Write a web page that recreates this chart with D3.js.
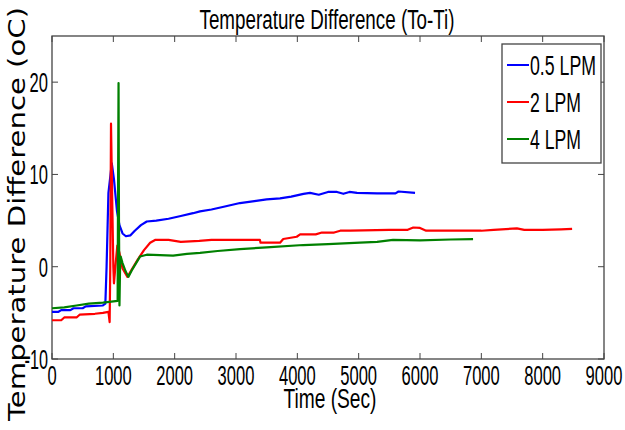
<!DOCTYPE html>
<html>
<head>
<meta charset="utf-8">
<script src="https://cdn.jsdelivr.net/npm/d3@7"></script>
<style>
  body { margin: 0; background: #fff; }
  svg { display: block; }
</style>
</head>
<body>
<svg width="625" height="430"></svg>
<script>
// series: [time (s), temperature difference (oC)]
var blue05 = [[0,-4.9],[100,-4.9],[150,-4.7],[300,-4.7],[350,-4.5],[500,-4.5],[550,-4.3],[830,-4.2],[870,-4.0],[890,0],[920,8],[975,11.2],[1010,9.5],[1060,6],[1100,4.5],[1150,3.6],[1205,3.3],[1280,3.4],[1350,3.9],[1450,4.5],[1545,4.9],[1700,5.0],[1900,5.2],[2100,5.5],[2300,5.8],[2413,6.0],[2600,6.2],[2800,6.5],[3065,6.9],[3300,7.1],[3500,7.3],[3718,7.4],[3900,7.6],[4100,7.9],[4207,8.0],[4350,7.8],[4500,8.1],[4647,8.1],[4750,7.9],[4850,8.1],[4973,8.0],[5300,7.95],[5600,7.95],[5650,8.15],[5919,8.0]];
var red2 = [[0,-5.8],[150,-5.8],[200,-5.5],[400,-5.5],[450,-5.2],[700,-5.1],[830,-5.0],[920,-4.9],[940,-6.0],[950,0],[962,15.5],[980,8],[1000,0],[1010,-1.8],[1040,0.5],[1065,2.3],[1100,1.5],[1150,-0.2],[1230,-1.1],[1300,-0.3],[1400,0.8],[1500,1.8],[1600,2.6],[1680,2.9],[1900,2.9],[2100,2.7],[2400,2.8],[2600,2.9],[3000,2.9],[3390,2.9],[3400,2.6],[3718,2.6],[3770,3.0],[3990,3.25],[4045,3.5],[4300,3.5],[4400,3.7],[4600,3.7],[4700,3.9],[4860,3.9],[5500,4.0],[5800,4.0],[5890,4.25],[6000,4.2],[6100,3.9],[6500,3.9],[7000,3.9],[7200,4.0],[7580,4.15],[7700,4.0],[8000,4.0],[8300,4.05],[8480,4.1]];
var green4 = [[0,-4.5],[200,-4.4],[400,-4.2],[600,-4.0],[830,-3.9],[1070,-3.7],[1078,10],[1085,19.9],[1092,5],[1100,-4.2],[1110,0],[1120,1.1],[1150,0.4],[1200,-0.5],[1245,-1.1],[1300,-0.4],[1435,1.1],[1545,1.3],[1975,1.2],[2200,1.4],[2413,1.5],[2700,1.7],[3065,1.9],[3500,2.1],[4095,2.35],[4500,2.45],[5020,2.6],[5300,2.7],[5560,2.9],[6000,2.85],[6500,2.95],[6865,3.0]];

var seriesNames = ["0.5 LPM", "2 LPM", "4 LPM"];
var seriesColors = ["#0000ff", "#ff0000", "#008000"];
var xTicks = [0,1000,2000,3000,4000,5000,6000,7000,8000,9000];
var yTicks = [-10,0,10,20];

var svg = d3.select("svg");
var margin = {top: 36, right: 21, bottom: 71, left: 52};
var width = 625 - margin.left - margin.right;
var height = 430 - margin.top - margin.bottom;
var g = svg.append("g").attr("transform", "translate(" + margin.left + "," + margin.top + ")");

var x = d3.scaleLinear().domain([0, 9000]).range([0, width]);
var y = d3.scaleLinear().domain([-10, 25]).range([height, 0]);

var font = "'Liberation Sans', Arial, sans-serif";
var digitW = 9.2;

// box
g.append("rect").attr("width", width).attr("height", height)
  .attr("fill", "none").attr("stroke", "#444").attr("stroke-width", 1.3);

// inward ticks on all four sides
var tk = 6;
g.selectAll(".xt").data(xTicks).enter().append("path")
  .attr("d", function(d){ return "M" + x(d) + "," + height + "v" + (-tk) + "M" + x(d) + ",0v" + tk; })
  .attr("stroke", "#444");
g.selectAll(".yt").data(yTicks).enter().append("path")
  .attr("d", function(d){ return "M0," + y(d) + "h" + tk + "M" + width + "," + y(d) + "h" + (-tk); })
  .attr("stroke", "#444");

// tick labels (narrow, tall like the reference)
g.selectAll(".xl").data(xTicks).enter().append("text")
  .attr("x", function(d){ return x(d); })
  .attr("y", height + 26)
  .attr("text-anchor", "middle")
  .attr("font-family", font).attr("font-size", 28)
  .attr("textLength", function(d){ return String(d).length * digitW; })
  .attr("lengthAdjust", "spacingAndGlyphs")
  .text(function(d){ return d; });

g.selectAll(".yl").data(yTicks).enter().append("text")
  .attr("x", -4)
  .attr("y", function(d){ return y(d) + 10; })
  .attr("text-anchor", "end")
  .attr("font-family", font).attr("font-size", 28)
  .attr("textLength", function(d){ return String(d).replace("-", "").length * digitW + (d < 0 ? 5 : 0); })
  .attr("lengthAdjust", "spacingAndGlyphs")
  .text(function(d){ return d; });

// lines
var line = d3.line().x(function(d){ return x(d[0]); }).y(function(d){ return y(d[1]); });
[blue05, red2, green4].forEach(function(s, i){
  g.append("path").datum(s)
    .attr("d", line)
    .attr("fill", "none")
    .attr("stroke", seriesColors[i])
    .attr("stroke-width", 2.2)
    .attr("stroke-linejoin", "round");
});

// title and axis labels
svg.append("text").attr("x", 327).attr("y", 29)
  .attr("text-anchor", "middle").attr("font-family", font).attr("font-size", 27)
  .attr("textLength", 255).attr("lengthAdjust", "spacingAndGlyphs")
  .text("Temperature Difference (To-Ti)");

svg.append("text").attr("x", 330).attr("y", 408)
  .attr("text-anchor", "middle").attr("font-family", font).attr("font-size", 27)
  .attr("textLength", 93).attr("lengthAdjust", "spacingAndGlyphs")
  .text("Time (Sec)");

svg.append("text")
  .attr("transform", "translate(25,214) rotate(-90)")
  .attr("text-anchor", "middle").attr("font-family", "'DejaVu Sans', Verdana, sans-serif").attr("font-size", 23)
  .attr("textLength", 414).attr("lengthAdjust", "spacingAndGlyphs")
  .text("Temperature Difference (oC)");

// legend
var lg = svg.append("g").attr("transform", "translate(502,44)");
lg.append("rect").attr("width", 99).attr("height", 119)
  .attr("fill", "#fff").attr("stroke", "#444").attr("stroke-width", 1.3);
var lgW = [66, 51, 51];
seriesNames.forEach(function(name, i){
  var cy = 21 + i * 37;
  lg.append("line").attr("x1", 5).attr("x2", 27).attr("y1", cy).attr("y2", cy)
    .attr("stroke", seriesColors[i]).attr("stroke-width", 2);
  lg.append("text").attr("x", 28).attr("y", cy + 10)
    .attr("font-family", font).attr("font-size", 28)
    .attr("textLength", lgW[i]).attr("lengthAdjust", "spacingAndGlyphs")
    .text(name);
});
</script>
</body>
</html>
